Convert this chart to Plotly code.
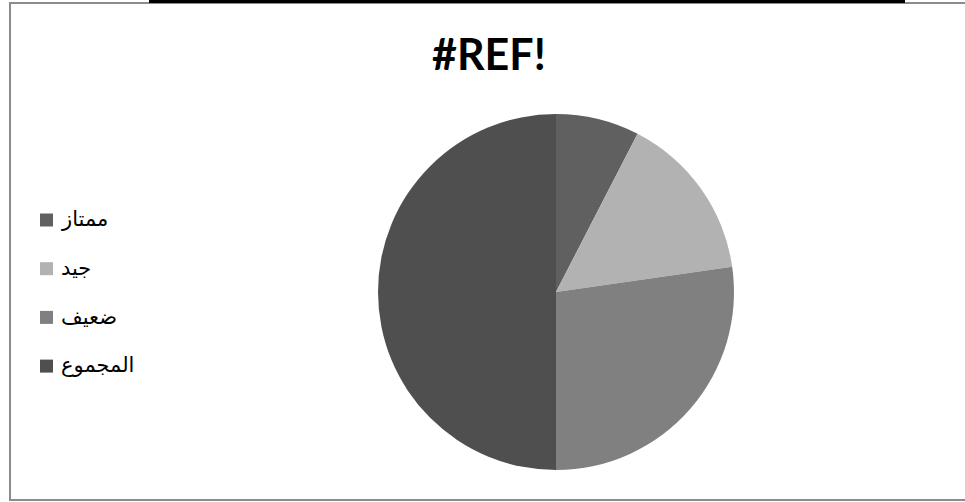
import plotly.graph_objects as go

W, H = 965, 502

labels = ["ممتاز", "جيد", "ضعيف", "المجموع"]
values = [5, 10, 18, 33]
colors = ["#606060", "#b2b2b2", "#808080", "#4f4f4f"]
title_text = "#REF!"


def px(x):
    return x / W


def py(y):
    return 1 - y / H


cx, cy, r = 556, 292, 178

fig = go.Figure(
    go.Pie(
        labels=labels,
        values=values,
        sort=False,
        direction="clockwise",
        rotation=0,
        textinfo="none",
        hoverinfo="label+value+percent",
        marker=dict(colors=colors, line=dict(width=0)),
        domain=dict(x=[px(cx - r), px(cx + r)], y=[py(cy + r), py(cy - r)]),
        showlegend=False,
    )
)

shapes = [
    # outer frame
    dict(type="rect", xref="paper", yref="paper",
         x0=px(10), x1=px(975), y0=py(500), y1=py(3),
         line=dict(color="#8c8c8c", width=2), fillcolor="rgba(0,0,0,0)", layer="below"),
    # black top bar
    dict(type="rect", xref="paper", yref="paper",
         x0=px(149), x1=px(905), y0=py(3), y1=py(0),
         line=dict(width=0), fillcolor="#000000"),
]

annotations = [
    dict(text="<b>" + title_text + "</b>", x=px(489), y=py(53), xref="paper", yref="paper",
         showarrow=False, xanchor="center", yanchor="middle",
         font=dict(family="Lato, Open Sans, sans-serif", size=43, color="#000000")),
]

leg_y0, leg_dy = 220, 48.7
for i, (lab, col) in enumerate(zip(labels, colors)):
    yc = leg_y0 + i * leg_dy
    shapes.append(dict(type="rect", xref="paper", yref="paper",
                       x0=px(40), x1=px(53), y0=py(yc + 6.5), y1=py(yc - 6.5),
                       line=dict(width=0), fillcolor=col))
    annotations.append(dict(text=lab, x=px(59), y=py(yc - 1), xref="paper", yref="paper",
                            showarrow=False, xanchor="left", yanchor="middle",
                            font=dict(family="Arial, Liberation Sans, DejaVu Sans, sans-serif",
                                      size=21, color="#000000")))

fig.update_layout(
    width=W, height=H,
    margin=dict(l=0, r=0, t=0, b=0),
    paper_bgcolor="#ffffff",
    plot_bgcolor="#ffffff",
    shapes=shapes,
    annotations=annotations,
)

fig.write_html("out.html", config={"displayModeBar": False},
               post_script="document.body.style.margin='0';document.body.style.overflow='hidden';")
